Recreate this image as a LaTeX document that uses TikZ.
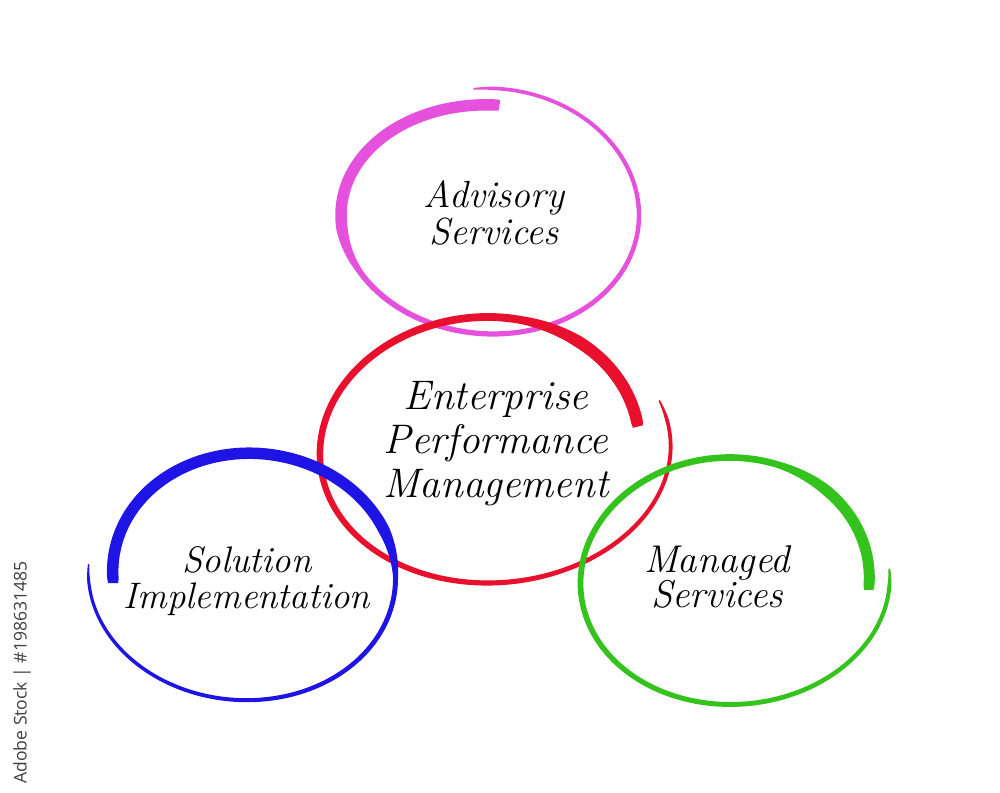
\documentclass[tikz,border=0pt]{standalone}
\usepackage{fontspec}
\newfontfamily\stockfont{Open Sans}
\definecolor{ringpink}{HTML}{E550DC}
\definecolor{ringred}{HTML}{E8102C}
\definecolor{ringblue}{HTML}{1E14E6}
\definecolor{ringgreen}{HTML}{34C21C}
\definecolor{stockgray}{HTML}{404040}

\pgfkeys{/ring/.is family,/ring/.cd,
  cx/.store in=\Rcx, cy/.store in=\Rcy,
  rxa/.store in=\Rrxa, rxb/.store in=\Rrxb,
  rya/.store in=\Rrya, ryb/.store in=\Rryb,
  ta/.store in=\Rta, tb/.store in=\Rtb,
  wa/.store in=\Rwa, wb/.store in=\Rwb, wt/.store in=\Rwt,
  pa/.store in=\Rpa, pb/.store in=\Rpb,
  ts/.store in=\Rts, te/.store in=\Rte,
  ts=0.45, te=0.45}

\tikzset{
  declare function={
    ringt(\u)=\Rta+(\Rtb-(\Rta))*\u;
    ringrx(\u)=\Rrxa+(\Rrxb-\Rrxa)*\u;
    ringry(\u)=\Rrya+(\Rryb-\Rrya)*\u;
    ringbase(\u)=\Rwa+(\Rwb-\Rwa)*\u;
    ringbump(\u)=min(1,max(0,(\u-(\Rpa))/0.06))*min(1,max(0,(\Rpb-\u)/0.06));
    ringw(\u)=(ringbase(\u)+ringbump(\u)*(\Rwt-ringbase(\u)))*min(1,\Rts+25*\u)*min(1,\Rte+25*(1-\u));
  },
  ringlabel/.style={align=center, inner sep=0pt, text=black}
}

\newcommand\handring[2]{%
  \pgfkeys{/ring/.cd,ts=0.45,te=0.45,#1}%
  \fill[#2] plot[domain=0:1,samples=300,variable=\q]
    ({\Rcx+(ringrx(\q)+0.5*ringw(\q))*cos(ringt(\q))},{\Rcy+(ringry(\q)+0.5*ringw(\q))*sin(ringt(\q))})
    -- plot[domain=1:0,samples=300,variable=\q]
    ({\Rcx+(ringrx(\q)-0.5*ringw(\q))*cos(ringt(\q))},{\Rcy+(ringry(\q)-0.5*ringw(\q))*sin(ringt(\q))})
    -- cycle;}

\begin{document}
\begin{tikzpicture}[x=0.02cm,y=-0.02cm]
\useasboundingbox (0,0) rectangle (1000,793);
\fill[white] (0,0) rectangle (1000,793);

% pink ring (Advisory Services)
\handring{cx=490,cy=215.25,rxa=149,rxb=149,rya=110.25,ryb=127.25,
  ta=273.8,tb=-96.5,wa=7,wb=3.5,wt=11.5,pa=-0.1,pb=0.33,ts=0.9}{ringpink}
% red ring (Enterprise Performance Management)
\handring{cx=487.5,cy=450,rxa=185,rxb=152.8,rya=133,ryb=133,
  ta=-22,tb=350,wa=3.5,wb=9,wt=12,pa=0.82,pb=1.1,te=0.85}{ringred}
% blue ring (Solution Implementation)
\handring{cx=248,cy=575,rxa=160,rxb=135,rya=127,ryb=120,
  ta=185,tb=-184,wa=3,wb=7,wt=11.5,pa=0.5,pb=1.1,te=0.85}{ringblue}
% green ring (Managed Services)
\handring{cx=730,cy=580.5,rxa=160,rxb=139,rya=124.5,ryb=122.5,
  ta=-5.5,tb=364.5,wa=4,wb=7.5,wt=11,pa=0.8,pb=1.1,te=0.85}{ringgreen}

\node[ringlabel, font=\fontsize{21.5}{21}\selectfont\itshape] (advisory) at (494,213.3) {Advisory\\Services};
\node[ringlabel, font=\fontsize{23.5}{25}\selectfont\itshape] (epm) at (496,443.4) {Enterprise\\Performance\\Management};
\node[ringlabel, font=\fontsize{21}{20.4}\selectfont\itshape\addfontfeatures{FakeStretch=1.12}] (solution) at (247,580.7) {Solution\\Implementation};
\node[ringlabel, font=\fontsize{22}{20.4}\selectfont\itshape\addfontfeatures{FakeStretch=1.1}] (managed) at (717,577) {Managed\\Services};

\node[rotate=90, inner sep=0pt, text=stockgray, font=\stockfont\fontsize{10}{12}\selectfont] (stock) at (22,672.5) {Adobe Stock | \#198631485};
\end{tikzpicture}
\end{document}
